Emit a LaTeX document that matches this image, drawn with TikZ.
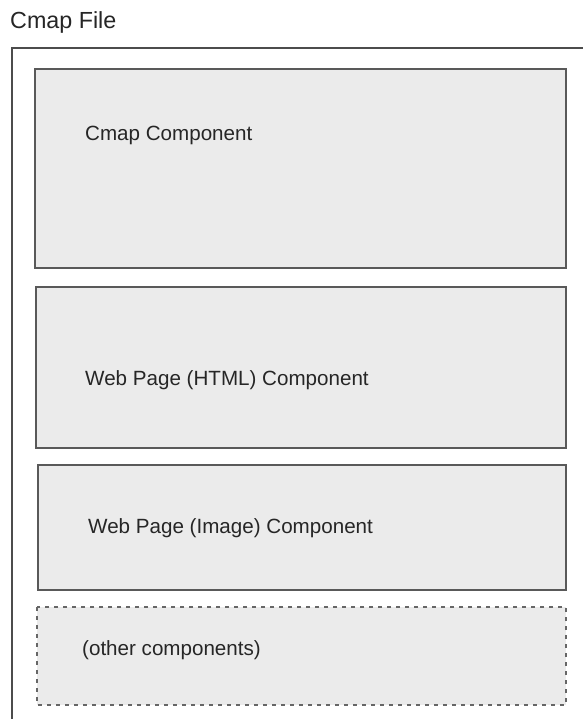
\documentclass[tikz,border=0pt]{standalone}
\usepackage{fontspec}
\setmainfont{Liberation Sans}
\begin{document}
\begin{tikzpicture}[x=1pt,y=-1pt,
  comp/.style={draw=black!65,fill=black!8,line width=1.6pt},
  othercomp/.style={draw=black!60,fill=black!8,line width=1.4pt,dash pattern=on 4pt off 5pt},
  lbl/.style={anchor=base west,inner sep=0pt,font=\fontsize{20.6}{24}\selectfont,text=black!85},
  frame/.style={draw=black!70,line width=1.6pt}]
\useasboundingbox (0,0) rectangle (582,719);
\node[lbl,font=\fontsize{23.3}{28}\selectfont] (title) at (10,28.5) {Cmap File};
\coordinate (ftr) at (583,48);
\coordinate (ftl) at (12,48);
\coordinate (fbl) at (12,720);
\draw[frame] (ftr) -- (ftl) -- (fbl);
\draw[comp] (35,69) rectangle (566,268);
\draw[comp] (36,287) rectangle (566,448);
\draw[comp] (38,465) rectangle (566,590);
\draw[othercomp] (37,607) rectangle (566,705);
\node[lbl] (c1) at (85,141) {Cmap Component};
\node[lbl] (c2) at (85,385) {Web Page (HTML) Component};
\node[lbl] (c3) at (88,533) {Web Page (Image) Component};
\node[lbl] (c4) at (82,655) {(other components)};
\end{tikzpicture}
\end{document}
